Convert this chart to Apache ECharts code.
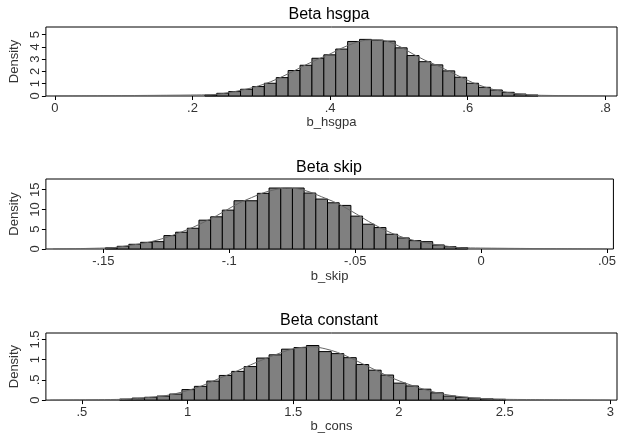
<!DOCTYPE html>
<html>
<head>
<meta charset="utf-8">
<script src="https://cdn.jsdelivr.net/npm/echarts@6/dist/echarts.min.js"></script>
<style>
html,body{margin:0;padding:0;background:#fff;}
#chart{width:619px;height:434px;}
</style>
</head>
<body>
<div id="chart"></div>
<script>
// ---------- data ----------
const titles = ['Beta hsgpa', 'Beta skip', 'Beta constant'];
const varNames = ['b_hsgpa', 'b_skip', 'b_cons'];

// panel 1: b_hsgpa
const hsgpaBinStart = 0.2180;
const hsgpaBinWidth = 0.01729;
const hsgpaHeights = [0.08, 0.22, 0.36, 0.55, 0.77, 1.04, 1.50, 2.08, 2.51, 3.08, 3.36, 3.83, 4.45, 4.62,
  4.56, 4.48, 3.93, 3.30, 2.80, 2.54, 2.05, 1.53, 1.04, 0.71, 0.49, 0.30, 0.16, 0.08];
const hsgpaKde = [0.10, 0.20, 0.36, 0.56, 0.82, 1.15, 1.58, 2.05, 2.55, 3.00, 3.42, 3.90, 4.30, 4.55,
  4.58, 4.40, 3.98, 3.42, 2.92, 2.50, 2.03, 1.55, 1.10, 0.74, 0.47, 0.28, 0.15, 0.07];
const hsgpaKdeRange = [0.0, 0.80];
const hsgpaXTicks = [0, 0.2, 0.4, 0.6, 0.8];
const hsgpaYTicks = [0, 1, 2, 3, 4, 5];

// panel 2: b_skip
const skipBinStart = -0.14915;
const skipBinWidth = 0.00464;
const skipHeights = [0.30, 0.68, 1.19, 1.69, 1.86, 3.39, 4.24, 5.25, 7.29, 8.14, 9.83, 12.2, 12.2, 14.07,
  15.42, 15.42, 15.42, 14.15, 12.63, 11.69, 11.02, 8.31, 6.27, 5.42, 3.73, 2.80, 2.12, 1.86, 1.02, 0.59, 0.34];
const skipKde = [0.30, 0.65, 1.10, 1.60, 2.30, 3.20, 4.30, 5.50, 6.90, 8.40, 10.1, 11.7, 13.0, 14.2,
  15.0, 15.4, 15.2, 14.4, 13.2, 12.0, 10.5, 8.8, 7.0, 5.4, 4.0, 2.9, 2.1, 1.5, 1.0, 0.6, 0.3];
const skipKdeRange = [-0.170, 0.050];
const skipXTicks = [-0.15, -0.1, -0.05, 0, 0.05];
const skipYTicks = [0, 5, 10, 15];

// panel 3: b_cons
const consBinStart = 0.6787;
const consBinWidth = 0.0589;
const consHeights = [0.025, 0.05, 0.07, 0.10, 0.15, 0.26, 0.34, 0.47, 0.61, 0.71, 0.83, 1.04, 1.12, 1.26,
  1.30, 1.35, 1.20, 1.15, 1.05, 0.88, 0.74, 0.62, 0.42, 0.35, 0.27, 0.18, 0.10, 0.07, 0.05, 0.03, 0.02];
const consKde = [0.02, 0.04, 0.07, 0.10, 0.16, 0.24, 0.34, 0.47, 0.60, 0.73, 0.87, 1.00, 1.12, 1.23,
  1.30, 1.32, 1.27, 1.18, 1.05, 0.90, 0.75, 0.60, 0.47, 0.36, 0.26, 0.18, 0.12, 0.08, 0.05, 0.03, 0.02];
const consKdeRange = [0.35, 3.00];
const consXTicks = [0.5, 1, 1.5, 2, 2.5, 3];
const consYTicks = [0, 0.5, 1, 1.5];

// ---------- layout ----------
const panels = [
  {start: hsgpaBinStart, width: hsgpaBinWidth, h: hsgpaHeights, kde: hsgpaKde, kr: hsgpaKdeRange,
   xt: hsgpaXTicks, yt: hsgpaYTicks, xmin: -0.01297, xmax: 0.8169, ymax: 5.63,
   top: 27, height: 69, titleY: 15, nameGap: 20},
  {start: skipBinStart, width: skipBinWidth, h: skipHeights, kde: skipKde, kr: skipKdeRange,
   xt: skipXTicks, yt: skipYTicks, xmin: -0.17281, xmax: 0.05254, ymax: 17.7,
   top: 179, height: 70, titleY: 168, nameGap: 21},
  {start: consBinStart, width: consBinWidth, h: consHeights, kde: consKde, kr: consKdeRange,
   xt: consXTicks, yt: consYTicks, xmin: 0.3297, xmax: 3.0314, ymax: 1.66,
   top: 333, height: 69, titleY: 321, nameGap: 17}
];

const fmt = v => {
  let s = String(Math.round(v * 1000) / 1000);
  return s.replace(/^(-?)0\./, '$1.');
};
const FONT = '"Liberation Sans Narrow", "Liberation Sans", Arial, sans-serif';

const grid = [], xAxis = [], yAxis = [], series = [], graphic = [];
panels.forEach((p, i) => {
  grid.push({left: 41, top: p.top, width: 576, height: p.height, show: true,
    borderColor: '#000', borderWidth: 1, backgroundColor: '#fff'});
  xAxis.push({type: 'value', gridIndex: i, min: p.xmin, max: p.xmax, position: 'bottom',
    name: varNames[i], nameLocation: 'middle', nameGap: p.nameGap,
    nameTextStyle: {color: '#333', fontSize: 13, fontFamily: FONT},
    axisLine: {show: false, onZero: false}, splitLine: {show: false},
    axisTick: {show: true, length: 4, inside: false, customValues: p.xt, lineStyle: {color: '#000'}},
    axisLabel: {customValues: p.xt, formatter: fmt, color: '#333', fontSize: 13, fontFamily: FONT, margin: 6}});
  yAxis.push({type: 'value', gridIndex: i, min: 0, max: p.ymax, position: 'left',
    name: 'Density', nameLocation: 'middle', nameGap: 23,
    nameTextStyle: {color: '#333', fontSize: 13, fontFamily: FONT},
    axisLine: {show: false, onZero: false}, splitLine: {show: false},
    axisTick: {show: true, length: 4, customValues: p.yt, lineStyle: {color: '#000'}},
    axisLabel: {customValues: p.yt, formatter: fmt, rotate: 90, color: '#333', fontSize: 13, fontFamily: FONT, margin: 4}});
  const bars = p.h.map((h, k) => [p.start + k * p.width, p.start + (k + 1) * p.width, h]);
  series.push({type: 'custom', xAxisIndex: i, yAxisIndex: i, data: bars,
    encode: {x: [0, 1], y: 2}, silent: true, animation: false,
    renderItem: (params, api) => {
      const a = api.coord([api.value(0), api.value(2)]);
      const b = api.coord([api.value(1), 0]);
      return {type: 'rect', shape: {x: a[0], y: a[1], width: b[0] - a[0], height: b[1] - a[1]},
        style: {fill: '#808080', stroke: '#000', lineWidth: 1}};
    }});
  const kdePts = [[p.kr[0], 0]].concat(p.kde.map((k, j) => [p.start + (j + 0.5) * p.width, k])).concat([[p.kr[1], 0]]);
  series.push({type: 'line', xAxisIndex: i, yAxisIndex: i, data: kdePts, showSymbol: false,
    smooth: 0.3, silent: true, animation: false, z: 5,
    lineStyle: {color: '#666', width: 1}});
  graphic.push({type: 'text', x: 329, y: p.titleY, style: {text: titles[i], fill: '#000',
    font: '16px "Liberation Sans", Arial, sans-serif', textAlign: 'center', textVerticalAlign: 'middle'}});
});

const chart = echarts.init(document.getElementById('chart'), null, {renderer: 'canvas'});
chart.setOption({animation: false, backgroundColor: '#fff', grid, xAxis, yAxis, series, graphic});
</script>
</body>
</html>
